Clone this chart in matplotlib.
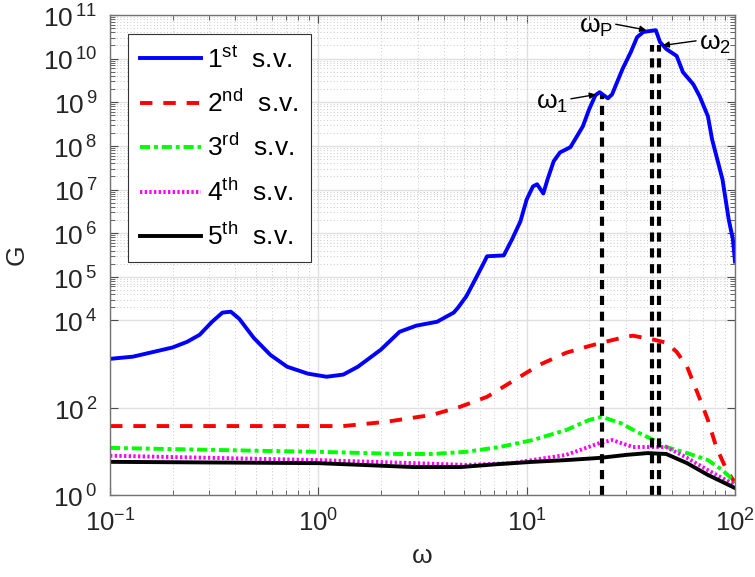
import numpy as np
import matplotlib
matplotlib.use('Agg')
import matplotlib.pyplot as plt
from matplotlib.ticker import FixedLocator, NullFormatter

plt.rcParams['font.family'] = ['Liberation Sans', 'DejaVu Sans']
plt.rcParams['mathtext.fontset'] = 'dejavusans'

# values (log10 of omega, log10 of G)
blue_logw = [-1.0, -0.89, -0.70, -0.63, -0.57, -0.51, -0.46, -0.42, -0.38, -0.31,
             -0.23, -0.15, -0.05, 0.04, 0.12, 0.19, 0.30, 0.39, 0.47, 0.57,
             0.65, 0.67, 0.71, 0.74, 0.79, 0.81, 0.89, 0.93, 0.97, 1.00,
             1.03, 1.05, 1.08, 1.10, 1.13, 1.16, 1.21, 1.27, 1.30, 1.33,
             1.35, 1.39, 1.41, 1.46, 1.50, 1.53, 1.56, 1.62, 1.64, 1.67,
             1.72, 1.75, 1.80, 1.83, 1.87, 1.89, 1.94, 1.97, 1.99, 2.0]
blue_logG = [3.12, 3.17, 3.38, 3.51, 3.67, 3.97, 4.18, 4.20, 4.04, 3.60,
             3.21, 2.94, 2.78, 2.71, 2.76, 2.94, 3.33, 3.74, 3.88, 3.97,
             4.18, 4.29, 4.55, 4.82, 5.28, 5.47, 5.49, 5.86, 6.27, 6.77,
             7.07, 7.12, 6.91, 7.23, 7.65, 7.85, 7.97, 8.45, 8.84, 9.16,
             9.23, 9.09, 9.18, 9.76, 10.15, 10.49, 10.61, 10.65, 10.38, 10.22,
             10.06, 9.69, 9.41, 9.14, 8.68, 8.15, 7.23, 6.31, 5.86, 5.35]

red_logw = [-1.0, 0.0, 0.12, 0.33, 0.55, 0.68, 0.81, 0.93, 1.06, 1.19, 1.29,
            1.36, 1.48, 1.51, 1.61, 1.67, 1.72, 1.77, 1.82, 1.87, 1.91, 1.96, 2.0]
red_logG = [1.58, 1.58, 1.58, 1.68, 1.84, 2.02, 2.25, 2.60, 2.98, 3.26, 3.40,
            3.49, 3.63, 3.65, 3.56, 3.49, 3.28, 2.94, 2.34, 1.72, 1.10, 0.57, 0.28]

green_logw = [-1.0, -0.25, 0.0, 0.39, 0.55, 0.71, 0.87, 1.03, 1.19, 1.30,
              1.36, 1.45, 1.54, 1.61, 1.67, 1.77, 1.87, 1.94, 2.0]
green_logG = [1.08, 1.01, 0.99, 0.94, 0.94, 0.99, 1.10, 1.26, 1.49, 1.72,
              1.79, 1.65, 1.42, 1.26, 1.10, 0.96, 0.80, 0.57, 0.30]

magenta_logw = [-1.0, 0.0, 0.46, 0.71, 0.93, 1.19, 1.35, 1.41, 1.51, 1.58,
                1.67, 1.77, 1.87, 2.0]
magenta_logG = [0.90, 0.80, 0.73, 0.69, 0.73, 0.92, 1.19, 1.26, 1.10, 1.10,
                1.10, 0.85, 0.57, 0.23]

black_logw = [-1.0, 0.0, 0.46, 0.68, 0.87, 1.03, 1.19, 1.35, 1.48, 1.58,
              1.67, 1.77, 1.87, 2.0]
black_logG = [0.76, 0.73, 0.64, 0.64, 0.71, 0.76, 0.80, 0.85, 0.92, 0.96,
              0.94, 0.73, 0.46, 0.16]

labels = ['1$^{\\mathregular{st}}$  s.v.', '2$^{\\mathregular{nd}}$  s.v.',
          '3$^{\\mathregular{rd}}$  s.v.', '4$^{\\mathregular{th}}$  s.v.',
          '5$^{\\mathregular{th}}$  s.v.']

# marked frequencies: dashed lines (omega, top of line)
mark_w = [23.0, 40.0, 43.3]
mark_top = [1.5e9, 2.1e10, 2.1e10]

# arrow annotations (text, omega, G, offset in points, alignment)
ann_text = ['ω$_\\mathregular{1}$', 'ω$_\\mathregular{P}$', 'ω$_\\mathregular{2}$']
ann_w = [21.5, 37.5, 45.0]
ann_G = [1.5e9, 4.5e10, 2.0e10]
ann_off = [(-20, -6), (-24, 2), (26, 1)]
ann_ha = ['right', 'right', 'left']

yticks_exp = [0, 2, 4, 5, 6, 7, 8, 9, 10, 11]
xticks_exp = [-1, 0, 1, 2]

fig = plt.figure(figsize=(7.55, 5.77), dpi=100)
ax = fig.add_axes([0.1457, 0.1421, 0.8278, 0.832])

lw = 2.8
ax.plot(10 ** np.array(blue_logw), 10 ** np.array(blue_logG), color='#0000ff', lw=lw, label=labels[0])
ax.plot(10 ** np.array(red_logw), 10 ** np.array(red_logG), color='#ff0000', lw=lw,
        dashes=(3.2, 2.8), label=labels[1])
ax.plot(10 ** np.array(green_logw), 10 ** np.array(green_logG), color='#00ff00', lw=lw,
        dashes=(2.6, 1.0, 1.0, 1.0), label=labels[2])
ax.plot(10 ** np.array(magenta_logw), 10 ** np.array(magenta_logG), color='#ff00ff', lw=lw,
        dashes=(0.6, 0.6), label=labels[3])
ax.plot(10 ** np.array(black_logw), 10 ** np.array(black_logG), color='k', lw=lw, label=labels[4])

ax.vlines(mark_w, 1, mark_top, colors='k', linestyles=(0, (2.2, 1.6)), lw=3)

for i in range(len(ann_text)):
    ax.annotate(ann_text[i], xy=(ann_w[i], ann_G[i]), xytext=ann_off[i],
                textcoords='offset points', ha=ann_ha[i], va='center', fontsize=19,
                arrowprops=dict(arrowstyle='-|>', color='k', lw=1, mutation_scale=9,
                                shrinkA=0, shrinkB=0,
                                relpos=(1, 0.65) if ann_ha[i] == 'right' else (0, 0.65)))

ax.set_xscale('log')
ax.set_yscale('log')
ax.set_xlim(0.1, 100)
ax.set_ylim(1, 1e11)

ax.yaxis.set_major_locator(FixedLocator([10.0 ** e for e in yticks_exp]))
ax.set_yticklabels(['10$^{\\mathregular{\\,%d}}$' % e for e in yticks_exp])
yminor = [k * 10.0 ** d for d in range(4, 11) for k in range(2, 10)]
ax.yaxis.set_minor_locator(FixedLocator(yminor))
ax.yaxis.set_minor_formatter(NullFormatter())

ax.xaxis.set_major_locator(FixedLocator([10.0 ** e for e in xticks_exp]))
ax.set_xticklabels(['10$^{\\mathregular{%d}}$' % e for e in xticks_exp])
xminor = [k * 10.0 ** d for d in range(-1, 2) for k in range(2, 10)]
ax.xaxis.set_minor_locator(FixedLocator(xminor))
ax.xaxis.set_minor_formatter(NullFormatter())

ax.tick_params(which='both', direction='in', top=True, right=True, labelsize=19,
               color='0.3', labelcolor='0.15')
ax.tick_params(which='major', length=6, width=0.8)
ax.tick_params(which='minor', length=3.5, width=0.6)
ax.tick_params(axis='y', which='major', pad=9)
ax.tick_params(axis='x', which='major', pad=9, labelsize=18.5)
ax.grid(which='major', color='0.88', lw=1)
ax.grid(which='minor', color='0.72', lw=0.6, ls=(0, (1, 3)))
ax.set_axisbelow(True)
for s in ax.spines.values():
    s.set_color('0.45')
    s.set_linewidth(1)

ax.set_xlabel('ω', fontsize=19, color='0.15', labelpad=6)
ax.set_ylabel('G', fontsize=19, color='0.15', labelpad=10)

leg = ax.legend(loc='upper left', fontsize=19, handlelength=2.3, handletextpad=0.25,
                labelspacing=0.63, fancybox=False, framealpha=1, edgecolor='0.2',
                borderpad=0.45, borderaxespad=0, bbox_to_anchor=(0.029, 0.96))
leg.get_frame().set_linewidth(0.8)

fig.savefig('out.png', dpi=100)
